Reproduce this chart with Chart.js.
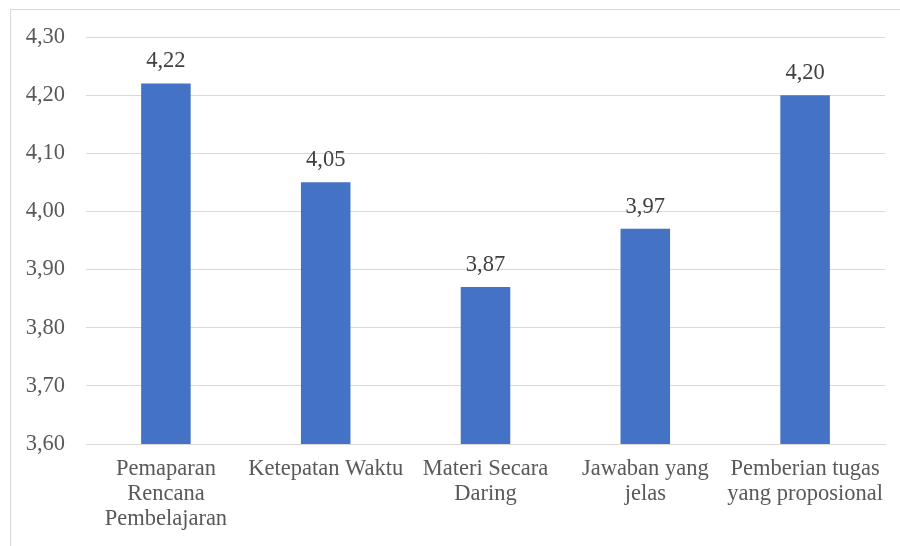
<!DOCTYPE html>
<html><head><meta charset="utf-8">
<script src="https://cdn.jsdelivr.net/npm/chart.js@4"></script>
<style>
html,body{margin:0;padding:0;background:#fff;overflow:hidden;}
#frame{position:absolute;left:10px;top:9px;width:1000px;height:700px;border:1px solid #d9d9d9;box-sizing:border-box;}
#wrap{position:absolute;left:0;top:0;width:900px;height:546px;}
</style></head><body>
<div id="frame"></div>
<div id="wrap"><canvas id="c" width="900" height="546"></canvas></div>
<script>
const categories = [
  ["Pemaparan","Rencana","Pembelajaran"],
  ["Ketepatan Waktu"],
  ["Materi Secara","Daring"],
  ["Jawaban yang","jelas"],
  ["Pemberian tugas","yang proposional"]
];
const values = [4.22, 4.05, 3.87, 3.97, 4.20];
const yMin = 3.6, yMax = 4.3, yStep = 0.1;

const fmt = v => v.toFixed(2).replace('.', ',');
const FONT = "'Liberation Serif', 'Times New Roman', serif";
const TXT = '#595959';

const labelPlugin = {
  id: 'vlabels',
  afterDatasetsDraw(chart) {
    const ctx = chart.ctx;
    const meta = chart.getDatasetMeta(0);
    ctx.save();
    ctx.font = "22.5px " + FONT;
    ctx.fillStyle = '#404040';
    ctx.textAlign = 'center';
    ctx.textBaseline = 'middle';
    meta.data.forEach((bar, i) => {
      ctx.fillText(fmt(values[i]), bar.x, bar.y - 22);
    });
    ctx.restore();
  }
};

new Chart(document.getElementById('c'), {
  type: 'bar',
  data: {
    labels: categories,
    datasets: [{
      data: values,
      backgroundColor: '#4472c4',
      categoryPercentage: 1,
      barPercentage: 0.31
    }]
  },
  options: {
    responsive: false,
    animation: false,
    devicePixelRatio: 1,
    layout: { padding: { top: 37, right: 15, left: 0, bottom: 0 } },
    plugins: { legend: { display: false }, tooltip: { enabled: false } },
    scales: {
      x: {
        grid: { display: false, drawTicks: false },
        border: { display: true, color: '#d9d9d9', width: 1 },
        ticks: { color: TXT, font: { family: FONT, size: 22.5, lineHeight: 1.11 }, padding: 13, maxRotation: 0, autoSkip: false },
        afterFit: s => { s.height = 102; }
      },
      y: {
        min: yMin, max: yMax,
        grid: { color: '#d9d9d9', lineWidth: 1, drawTicks: false },
        border: { display: false },
        ticks: { stepSize: yStep, color: TXT, font: { family: FONT, size: 22.5 }, padding: 21, callback: v => fmt(v) },
        afterFit: s => { s.width = 86; }
      }
    }
  },
  plugins: [labelPlugin]
});
</script>
</body></html>
